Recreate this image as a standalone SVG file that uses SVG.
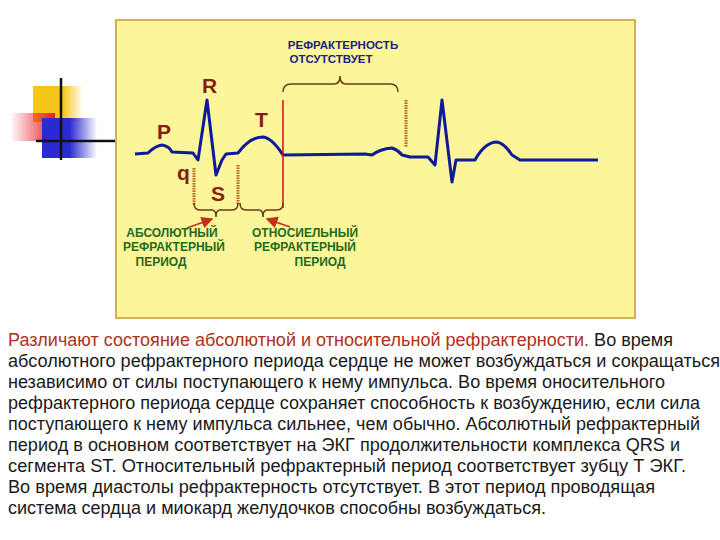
<svg xmlns="http://www.w3.org/2000/svg" width="720" height="540" viewBox="0 0 720 540">
<style>
.w{font-family:"Liberation Sans",Arial,sans-serif;font-weight:bold;font-size:21px;fill:#8b1a10}
.g{font-family:"Liberation Sans",Arial,sans-serif;font-weight:bold;font-size:12px;fill:#1d6b1d;text-anchor:middle}
.b{font-family:"Liberation Sans",Arial,sans-serif;font-weight:bold;font-size:11.5px;fill:#1a237e;text-anchor:middle}
.t{font-family:"Liberation Sans",Arial,sans-serif;font-size:17.5px;fill:#1a1a1a}
.br{fill:none;stroke:#6b3a1a;stroke-width:1.5}
.dot{stroke:#b5651d;stroke-width:3;stroke-dasharray:1.5 1}
</style>
<defs>
<linearGradient id="rg" x1="1" y1="0" x2="0" y2="0"><stop offset="0" stop-color="#e8202a"/><stop offset="1" stop-color="#e8202a" stop-opacity="0"/></linearGradient>
<linearGradient id="bg" x1="0" y1="0" x2="1" y2="0"><stop offset="0.5" stop-color="#2a2ad0"/><stop offset="1" stop-color="#2a2ad0" stop-opacity="0"/></linearGradient>
<linearGradient id="yg" x1="0" y1="0" x2="1" y2="0"><stop offset="0.6" stop-color="#f5c518"/><stop offset="1" stop-color="#f5c518" stop-opacity="0"/></linearGradient>
<marker id="ah" markerWidth="8" markerHeight="8" refX="7" refY="4" orient="auto"><path d="M0,0 L8,4 L0,8 Z" fill="#c0301a"/></marker>
</defs>
<g id="decor">
<rect x="33" y="86" width="50" height="36" fill="url(#yg)"/>
<rect x="10" y="113" width="45" height="28" fill="url(#rg)"/>
<rect x="42" y="118" width="55" height="40" fill="url(#bg)"/>
<line x1="61" y1="78" x2="61" y2="160" stroke="#111" stroke-width="2.5"/>
<line x1="36" y1="141" x2="116" y2="141" stroke="#111" stroke-width="2.5"/>
</g>
<g id="panel"><rect x="116" y="20" width="519" height="298" fill="#fdf59a" stroke="#d4b24a" stroke-width="2"/></g>
<g id="ecg">
<path d="M135,154 L148,153 Q155,146 162,145 Q169,146 172,152 L193,153 L198,160 L207,100 L216,175 L222,160 L226,154 L238,153 Q250,137 263,137 Q272,138 283,155 L365,154 L372,155 Q380,149 392,148 Q398,150 402,155 L410,157 L428,157 L435,165 L442,100 L452,182 L456,160 L475,160 Q485,142 497,142 Q504,143 512,155 L520,160 L598,160" fill="none" stroke="#0d1a9a" stroke-width="3" stroke-linejoin="round"/>
</g>
<g id="markers">
<line x1="283" y1="100" x2="283" y2="208" stroke="#cc1010" stroke-width="1.5"/>
<line class="dot" x1="406" y1="100" x2="406" y2="147"/>
<line class="dot" x1="194" y1="168" x2="194" y2="205"/>
<line class="dot" x1="238" y1="165" x2="238" y2="205"/>
</g>
<g id="connectors">
<path class="br" d="M194,203 Q194,210 200,210 L212,210 Q216,210 216,217 Q216,210 220,210 L232,210 Q238,210 238,203"/>
<path class="br" d="M240,203 Q240,210 246,210 L259,210 Q263,210 263,217 Q263,210 267,210 L277,210 Q283,210 283,203"/>
<path class="br" d="M283,92 Q283,84 291,84 L334,84 Q340,84 340,76 Q340,84 346,84 L390,84 Q398,84 398,92"/>
<line x1="187" y1="228" x2="212" y2="219" stroke="#c0301a" stroke-width="1.5" marker-end="url(#ah)"/>
<line x1="290" y1="227" x2="267" y2="219" stroke="#c0301a" stroke-width="1.5" marker-end="url(#ah)"/>
</g>
<g id="letters">
<text class="w" x="157" y="139">P</text>
<text class="w" x="202" y="93">R</text>
<text class="w" x="255" y="127">T</text>
<text class="w" x="177" y="180">q</text>
<text class="w" x="211" y="201">S</text>
</g>
<g id="labels">
<text class="b" x="343" y="49">РЕФРАКТЕРНОСТЬ</text>
<text class="b" x="331" y="63">ОТСУТСТВУЕТ</text>
<text class="g" x="172" y="237">АБСОЛЮТНЫЙ</text>
<text class="g" x="174" y="251">РЕФРАКТЕРНЫЙ</text>
<text class="g" x="161" y="266">ПЕРИОД</text>
<text class="g" x="305" y="237">ОТНОСИЕЛЬНЫЙ</text>
<text class="g" x="305" y="251">РЕФРАКТЕРНЫЙ</text>
<text class="g" x="320" y="266">ПЕРИОД</text>
</g>
<g id="text" class="t">
<text x="8" y="346" textLength="665" lengthAdjust="spacingAndGlyphs"><tspan fill="#b0301a">Различают состояние абсолютной и относительной рефрактерности.</tspan> Во время</text>
<text x="8" y="367" textLength="712" lengthAdjust="spacingAndGlyphs">абсолютного рефрактерного периода сердце не может возбуждаться и сокращаться</text>
<text x="8" y="388" textLength="657" lengthAdjust="spacingAndGlyphs">независимо от силы поступающего к нему импульса. Во время оносительного</text>
<text x="8" y="409" textLength="692" lengthAdjust="spacingAndGlyphs">рефрактерного периода сердце сохраняет способность к возбуждению, если сила</text>
<text x="8" y="430" textLength="692" lengthAdjust="spacingAndGlyphs">поступающего к нему импульса сильнее, чем обычно. Абсолютный рефрактерный</text>
<text x="8" y="451" textLength="672" lengthAdjust="spacingAndGlyphs">период в основном соответствует на ЭКГ продолжительности комплекса QRS и</text>
<text x="8" y="472" textLength="678" lengthAdjust="spacingAndGlyphs">сегмента ST. Относительный рефрактерный период соответствует зубцу Т ЭКГ.</text>
<text x="8" y="493" textLength="647" lengthAdjust="spacingAndGlyphs">Во время диастолы рефрактерность отсутствует. В этот период проводящая</text>
<text x="8" y="514" textLength="538" lengthAdjust="spacingAndGlyphs">система сердца и миокард желудочков способны возбуждаться.</text>
</g>
</svg>
